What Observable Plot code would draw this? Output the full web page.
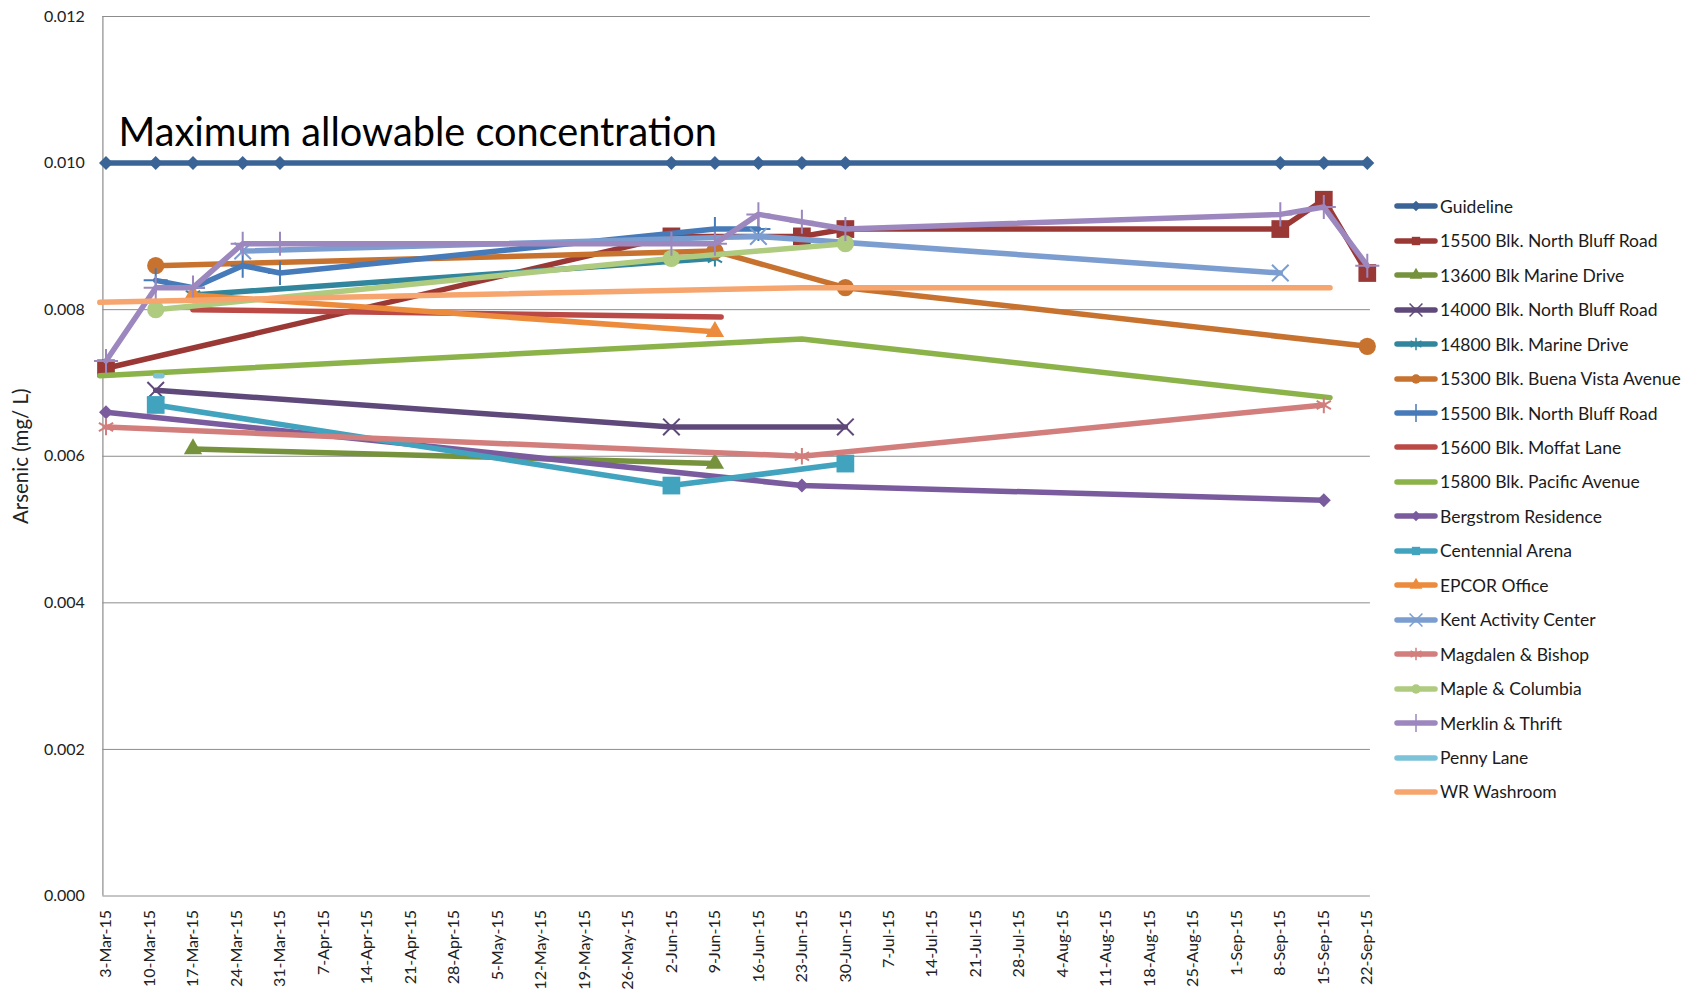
<!DOCTYPE html>
<html>
<head>
<meta charset="utf-8">
<script src="https://cdn.jsdelivr.net/npm/d3@7"></script>
<script src="https://cdn.jsdelivr.net/npm/@observablehq/plot@0.6"></script>
<style>
  html, body { margin: 0; padding: 0; background: #fff; }
  #wrap { position: relative; width: 1696px; height: 991px; overflow: hidden; font-family: Lato, "Open Sans", sans-serif; }
  #legend { position: absolute; left: 1393px; top: 0; }
  .row { position: absolute; left: 0; height: 24px; display: flex; align-items: center; white-space: nowrap; font-size: 17.5px; color: #1b1b1b; }
  .row svg { display: block; margin-right: 1px; }
</style>
</head>
<body>
<div id="wrap"><div id="legend"></div></div>
<script>
// Arsenic sampling results, 2015 (mg/L)
const sites = [
  "Guideline",
  "15500 Blk. North Bluff Road",
  "13600 Blk Marine Drive",
  "14000 Blk. North Bluff Road",
  "14800 Blk. Marine Drive",
  "15300 Blk. Buena Vista Avenue",
  "15500 Blk. North Bluff Road",
  "15600 Blk. Moffat Lane",
  "15800 Blk. Pacific Avenue",
  "Bergstrom Residence",
  "Centennial Arena",
  "EPCOR Office",
  "Kent Activity Center",
  "Magdalen & Bishop",
  "Maple & Columbia",
  "Merklin & Thrift",
  "Penny Lane",
  "WR Washroom"
];

const guideline = [
  ["2015-03-03", 0.010], ["2015-03-11", 0.010], ["2015-03-17", 0.010], ["2015-03-25", 0.010], ["2015-03-31", 0.010],
  ["2015-06-02", 0.010], ["2015-06-09", 0.010], ["2015-06-16", 0.010], ["2015-06-23", 0.010], ["2015-06-30", 0.010],
  ["2015-09-08", 0.010], ["2015-09-15", 0.010], ["2015-09-22", 0.010]
];
const northBluff15500a = [["2015-03-03", 0.0072], ["2015-06-02", 0.0090], ["2015-06-23", 0.0090], ["2015-06-30", 0.0091], ["2015-09-08", 0.0091], ["2015-09-15", 0.0095], ["2015-09-22", 0.0085]];
const marine13600 = [["2015-03-17", 0.0061], ["2015-06-09", 0.0059]];
const northBluff14000 = [["2015-03-11", 0.0069], ["2015-06-02", 0.0064], ["2015-06-30", 0.0064]];
const marine14800 = [["2015-03-17", 0.0082], ["2015-06-09", 0.0087]];
const buenaVista15300 = [["2015-03-11", 0.0086], ["2015-06-09", 0.0088], ["2015-06-30", 0.0083], ["2015-09-22", 0.0075]];
const northBluff15500b = [["2015-03-11", 0.0084], ["2015-03-17", 0.0083], ["2015-03-25", 0.0086], ["2015-03-31", 0.0085], ["2015-06-09", 0.0091], ["2015-06-16", 0.0091]];
const moffat15600 = [["2015-03-17", 0.0080], ["2015-06-10", 0.0079]];
const pacific15800 = [["2015-03-02", 0.0071], ["2015-06-23", 0.0076], ["2015-09-16", 0.0068]];
const bergstrom = [["2015-03-03", 0.0066], ["2015-06-23", 0.0056], ["2015-09-15", 0.0054]];
const centennial = [["2015-03-11", 0.0067], ["2015-06-02", 0.0056], ["2015-06-30", 0.0059]];
const epcor = [["2015-03-17", 0.0082], ["2015-06-09", 0.0077]];
const kent = [["2015-03-25", 0.0088], ["2015-06-16", 0.0090], ["2015-09-08", 0.0085]];
const magdalen = [["2015-03-03", 0.0064], ["2015-06-23", 0.0060], ["2015-09-15", 0.0067]];
const maple = [["2015-03-11", 0.0080], ["2015-06-02", 0.0087], ["2015-06-30", 0.0089]];
const merklin = [
  ["2015-03-03", 0.0073], ["2015-03-11", 0.0083], ["2015-03-17", 0.0083], ["2015-03-25", 0.0089], ["2015-03-31", 0.0089],
  ["2015-06-02", 0.0089], ["2015-06-09", 0.0089], ["2015-06-16", 0.0093], ["2015-06-23", 0.0092], ["2015-06-30", 0.0091],
  ["2015-09-08", 0.0093], ["2015-09-15", 0.0094], ["2015-09-22", 0.0086]
];
const pennyLane = [["2015-03-11", 0.0071], ["2015-03-12", 0.0071]];
const wrWashroom = [["2015-03-02", 0.0081], ["2015-06-23", 0.0083], ["2015-09-16", 0.0083]];

const readings = [
  guideline, northBluff15500a, marine13600, northBluff14000, marine14800, buenaVista15300,
  northBluff15500b, moffat15600, pacific15800, bergstrom, centennial, epcor, kent,
  magdalen, maple, merklin, pennyLane, wrWashroom
];

const siteColors = [
  "#3b6496", "#9a3836", "#76923c", "#5f497a", "#31859c", "#c7732f",
  "#467ab8", "#bb4946", "#8cb24a", "#7a5c9e", "#42a3bf", "#eb8b3b",
  "#7c9dcf", "#d27e7c", "#aecb7f", "#9c87be", "#7cc2d8", "#f7a56e"
];
// marker shape per site (null = line only)
const siteMarkers = [
  "diamond2", "square", "triangle", "times", "asterisk", "circle",
  "plus", null, null, "diamond2", "square", "triangle",
  "times", "asterisk", "circle", "plus", null, null
];

const weekLabels = [
  "3-Mar-15", "10-Mar-15", "17-Mar-15", "24-Mar-15", "31-Mar-15", "7-Apr-15", "14-Apr-15", "21-Apr-15",
  "28-Apr-15", "5-May-15", "12-May-15", "19-May-15", "26-May-15", "2-Jun-15", "9-Jun-15", "16-Jun-15",
  "23-Jun-15", "30-Jun-15", "7-Jul-15", "14-Jul-15", "21-Jul-15", "28-Jul-15", "4-Aug-15", "11-Aug-15",
  "18-Aug-15", "25-Aug-15", "1-Sep-15", "8-Sep-15", "15-Sep-15", "22-Sep-15"
];
const yTicks = [0, 0.002, 0.004, 0.006, 0.008, 0.010, 0.012];
const annotation = "Maximum allowable concentration";
const yTitle = "Arsenic (mg/ L)";

const parseDay = d3.utcParse("%Y-%m-%d");
const parseLabel = d3.utcParse("%-d-%b-%y");
const weekTicks = weekLabels.map(parseLabel);
const xDomain = [d3.utcHour.offset(weekTicks[0], -12), d3.utcHour.offset(weekTicks[weekTicks.length - 1], 12)];

const rows = readings.flatMap((pairs, i) =>
  pairs.map(([date, value]) => ({site: i, date: parseDay(date), value}))
);

const markerR = {diamond2: 6.3, square: 10, triangle: 6.8, times: 7.6, asterisk: 7.8, circle: 8.6, plus: 7.8};
const filledMarkers = new Set(["diamond2", "square", "triangle", "circle"]);

const seriesMarks = sites.flatMap((name, i) => {
  const data = rows.filter(r => r.site === i);
  const marks = [
    Plot.line(data, {
      x: "date", y: "value", stroke: siteColors[i], strokeWidth: 5.5,
      strokeLinejoin: "round", strokeLinecap: "round"
    })
  ];
  const m = siteMarkers[i];
  if (m) {
    const filled = filledMarkers.has(m);
    marks.push(Plot.dot(data, {
      x: "date", y: "value", symbol: () => m, r: markerR[m],
      fill: filled ? siteColors[i] : "none",
      stroke: siteColors[i], strokeWidth: filled ? 0 : 2
    }));
  }
  return marks;
});

const chart = Plot.plot({
  width: 1696,
  height: 991,
  marginLeft: 102.4,
  marginRight: 326.1,
  marginTop: 16,
  marginBottom: 95.5,
  style: {fontFamily: "Lato, 'Open Sans', sans-serif", fontSize: "16px", color: "#222", background: "transparent"},
  x: {type: "utc", domain: xDomain},
  y: {domain: [0, 0.012]},
  symbol: {type: "identity"},
  marks: [
    Plot.gridY(yTicks, {stroke: "#8c8c8c", strokeOpacity: 1, strokeWidth: 1}),
    Plot.ruleX([xDomain[0]], {stroke: "#8c8c8c", strokeWidth: 1.2}),
    Plot.axisY(yTicks, {tickFormat: d3.format(".3f"), tickSize: 0, tickPadding: 18, label: null, fontSize: 16}),
    Plot.axisX(weekTicks, {tickFormat: d3.utcFormat("%-d-%b-%y"), tickRotate: -90, tickSize: 0, tickPadding: 14, label: null, fontSize: 16}),
    ...seriesMarks,
    Plot.text([annotation], {
      text: d => d, x: () => weekTicks[0], y: () => guideline[0][1],
      dx: 12.5, dy: -30, textAnchor: "start", fontSize: 39.7, fill: "#000"
    }),
    Plot.text([yTitle], {
      text: d => d, frameAnchor: "left", textAnchor: "middle", dx: -81, rotate: -90, fontSize: 20.5, fill: "#222"
    })
  ]
});
document.getElementById("wrap").appendChild(chart);
chart.style.position = "absolute";
chart.style.left = "0";
chart.style.top = "0";

// legend: line sample with marker, then site name
const legend = d3.select("#legend");
sites.forEach((name, i) => {
  const row = legend.append("div").attr("class", "row").style("top", (206.3 + i * 34.45 - 12) + "px");
  const svg = row.append("svg").attr("width", 46).attr("height", 24);
  svg.append("line").attr("x1", 4).attr("x2", 42).attr("y1", 12).attr("y2", 12)
    .attr("stroke", siteColors[i]).attr("stroke-width", 5.5).attr("stroke-linecap", "round");
  const m = siteMarkers[i];
  if (m) {
    const types = {diamond2: d3.symbolDiamond2, square: d3.symbolSquare, triangle: d3.symbolTriangle,
      times: d3.symbolTimes, asterisk: d3.symbolAsterisk, circle: d3.symbolCircle, plus: d3.symbolPlus};
    const filled = filledMarkers.has(m);
    svg.append("path").attr("transform", "translate(23,12)")
      .attr("d", d3.symbol(types[m], filled ? 70 : 110)())
      .attr("fill", filled ? siteColors[i] : "none")
      .attr("stroke", siteColors[i]).attr("stroke-width", filled ? 0 : 1.5);
  }
  row.append("span").text(name);
});
</script>
</body>
</html>
